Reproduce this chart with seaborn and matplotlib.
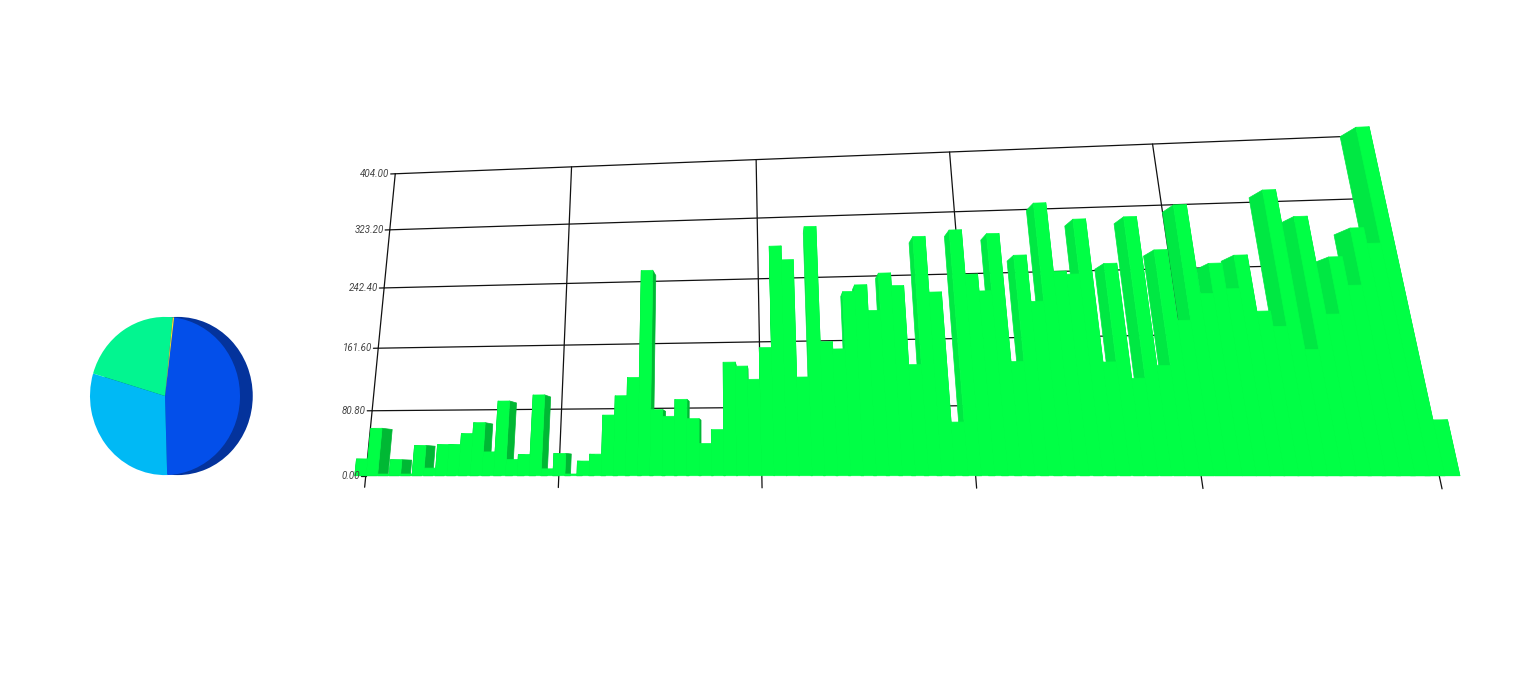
import numpy as np
import matplotlib
matplotlib.use("Agg")
import matplotlib.pyplot as plt
import seaborn as sns

# bar heights, left to right (85 categories)
values = [20, 57, 2, 19, 2, 36, 9, 37, 37, 50,
          63, 28, 89, 19, 25, 96, 8, 26, 2, 17,
          25, 71, 94, 116, 250, 77, 69, 89, 66, 37,
          53, 133, 128, 112, 150, 277, 259, 114, 301, 156,
          147, 217, 225, 193, 239, 223, 127, 284, 214, 60,
          291, 235, 214, 285, 129, 257, 200, 322, 236, 232,
          300, 127, 244, 108, 301, 122, 259, 174, 314, 205,
          241, 210, 250, 183, 165, 329, 138, 295, 178, 245,
          211, 279, 260, 404, 59]
z_ticks = [0, 80.8, 161.6, 242.4, 323.2, 404]
x_ticks = [0, 17, 34, 51, 68, 85]

pie_values = [47.5, 30, 22, 0.3]
pie_colors = ["#034fea", "#00b9f5", "#02f590", "#f2e436"]

FRONT = "#00ff45"
SIDE_DARK = "#00b834"    # right faces, seen on the left half
SIDE_LIGHT = "#00e843"   # left faces, seen on the right half
GRID = "#111111"

sns.set_theme(style="white")
plt.rcParams["font.family"] = ["Roboto", "DejaVu Sans"]

fig = plt.figure(figsize=(15.18, 6.81), dpi=100)

# camera set-up: eye sits on the floor, looking slightly up at the box
X_LO = -27
BOX = np.array([1689.0, 26.0, 419.5])   # world size of x, y, z extents
ZOOM = 0.5
HORIZ_DIST = 927.0
AZIM = -84.6
k = 1.8294640721620434 * 25 / 24 * ZOOM / np.linalg.norm(BOX)
d3 = np.hypot(HORIZ_DIST, BOX[2] / 2)
elev = -np.degrees(np.arcsin(BOX[2] / 2 / d3))
cam_x = (X_LO + 85) / 2 + d3 * np.cos(np.radians(elev)) * np.cos(np.radians(AZIM)) / (BOX[0] / (85 - X_LO))

ax = fig.add_axes([-0.4250, -1.4291, 1.7257, 3.8467], projection="3d")
ax.set_axis_off()
ax.patch.set_visible(False)
ax.computed_zorder = False

n = len(values)
xs = np.arange(n)
none = "none"
side_cols, front_cols = [], []
for i in range(n):
    side = SIDE_DARK if i + 1 <= cam_x else SIDE_LIGHT
    # face order in bar3d: bottom, top, front, back, left, right
    side_cols += [none, none, none, none, side, side]
    front_cols += [none, none, FRONT, none, none, none]

ax.bar3d(xs, np.zeros(n), np.zeros(n), 1, 1, values, color=side_cols,
         shade=False, edgecolor=side_cols, linewidth=0.5, zorder=2)
ax.bar3d(xs, np.zeros(n), np.zeros(n), 1, 1, values, color=front_cols,
         shade=False, edgecolor=front_cols, linewidth=0.5, zorder=3)

# back wall grid + ticks
for z in z_ticks:
    if z > 0:
        ax.plot([0, 85], [1, 1], [z, z], color=GRID, lw=0.9, zorder=1)
    ax.plot([-0.45, 0], [1, 1], [z, z], color=GRID, lw=0.9, zorder=1)
for x in x_ticks:
    ax.plot([x, x], [1, 1], [-14, 404], color=GRID, lw=0.9, zorder=1)

ax.set_xlim(X_LO, 85)
ax.set_ylim(0, 1)
ax.set_zlim(0, 404)
ax.set_box_aspect(tuple(BOX), zoom=ZOOM)
ax.set_proj_type("persp", focal_length=d3 * k / 10)
ax.view_init(elev=elev, azim=AZIM)

# z labels as plain 2d texts at the projected tick spots
M = ax.get_proj()
for z in z_ticks:
    p = M @ np.array([-0.55, 1, z, 1.0])
    ax.text2D(p[0] / p[3], p[1] / p[3], f"{z:.2f}", transform=ax.transData,
              ha="right", va="center", fontsize=7, style="italic",
              color="#444444", zorder=4)

# pie with a dark rim behind it
pax = fig.add_axes([75 / 1518, 198 / 681, 195 / 1518, 174 / 681])
pax.pie([1], colors=["#04339c"], center=(0.17, 0.0), radius=1,
        wedgeprops=dict(linewidth=0))
pax.pie(pie_values, colors=pie_colors, startangle=83, counterclock=False,
        radius=1, wedgeprops=dict(linewidth=0))
pax.set_aspect("auto")
pax.set_xlim(-1.2, 1.4)
pax.set_ylim(-1.1, 1.1)
pax.axis("off")

fig.savefig("out.png", dpi=100)
